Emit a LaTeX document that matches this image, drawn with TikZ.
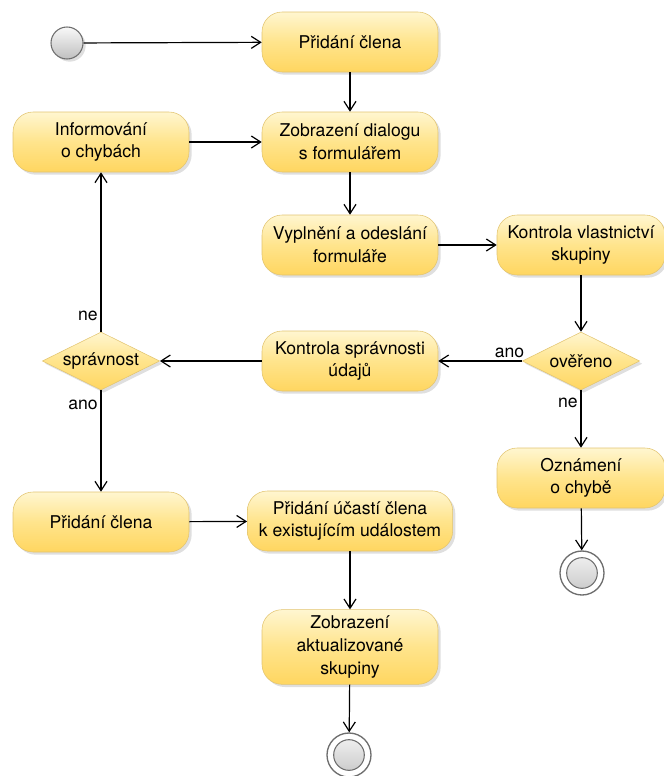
\documentclass[tikz,border=0pt]{standalone}
\usepackage{fontspec}
\setmainfont{TeX Gyre Heros}
\usetikzlibrary{arrows.meta,shapes.geometric,shadows}
\definecolor{BoxEdge}{RGB}{226,196,112}
\definecolor{BoxTop}{RGB}{255,246,208}
\definecolor{BoxMid}{RGB}{255,228,140}
\definecolor{BoxBottom}{RGB}{255,214,96}
\definecolor{NodeGray}{RGB}{110,110,110}
\newcommand{\boxfont}{\fontsize{13.2}{17}\selectfont}
\tikzset{
  action/.style={draw=BoxEdge,rounded corners=15pt,top color=BoxTop,
    bottom color=BoxBottom,middle color=BoxMid,minimum width=132pt,
    minimum height=45pt,align=center,font=\boxfont,
    drop shadow={shadow xshift=2pt,shadow yshift=-2pt,opacity=0.25}},
  decision/.style={diamond,aspect=2,draw=BoxEdge,top color=BoxTop,
    bottom color=BoxBottom,middle color=BoxMid,minimum width=88pt,
    minimum height=43.5pt,inner sep=0pt,font=\boxfont,
    drop shadow={shadow xshift=2pt,shadow yshift=-2pt,opacity=0.25}},
  start/.style={circle,draw=NodeGray,thick,minimum size=24pt,inner sep=0pt,
    top color=gray!5,bottom color=gray!50,
    drop shadow={shadow xshift=2pt,shadow yshift=-2pt,opacity=0.25}},
  final/.style={circle,draw=NodeGray,line width=1pt,minimum size=33pt,
    inner sep=0pt,fill=white,
    path picture={\draw[NodeGray,line width=0.8pt,top color=gray!8,
      bottom color=gray!45] (path picture bounding box.center) circle (11.5pt);}},
  guard/.style={font=\boxfont,inner sep=2pt},
  arrow/.style={-{Straight Barb[length=7pt,width=9pt]},line width=0.9pt}
}

\begin{document}
\begin{tikzpicture}[x=0.75pt,y=-0.75pt]
  \useasboundingbox (0,0) rectangle (664,776);
  \node[start] (start) at (67,43) {};
  \node[action] (add) at (350,42) {Přidání člena};
  \node[action] (dialog) at (350,142) {Zobrazení dialogu\\s formulářem};
  \node[action] (info) at (101,142) {Informování\\o chybách};
  \node[action] (fill) at (350,245) {Vyplnění a odeslání\\formuláře};
  \node[action,minimum width=126pt] (owner) at (581,245) {Kontrola vlastnictví\\skupiny};
  \node[decision] (verified) at (581,361) {ověřeno};
  \node[action] (check) at (350,361) {Kontrola správnosti\\údajů};
  \node[decision] (valid) at (101,361) {správnost};
  \node[action,minimum width=126pt] (notice) at (581,478) {Oznámení\\o chybě};
  \node[final] (endR) at (582,573) {};
  \node[action] (addm) at (101,522) {Přidání člena};
  \node[action,minimum width=154pt] (part) at (350,521) {Přidání účastí člena\\k existujícím událostem};
  \node[action,minimum height=56pt] (show) at (350,647) {Zobrazení\\aktualizované\\skupiny};
  \node[final] (endB) at (349,755) {};

  \foreach \a/\b in {start/add,add/dialog,info/dialog,dialog/fill,fill/owner,
    owner/verified,notice/endR,check/valid,addm/part,part/show,show/endB}{
    \draw[arrow] (\a) -- (\b);
  }
  \draw[arrow] (verified) -- node[guard,pos=0.15,above] {ano} (check);
  \draw[arrow] (verified) -- node[guard,pos=0.22,left] {ne} (notice);
  \draw[arrow] (valid) -- node[guard,pos=0.1,left] {ne} (info);
  \draw[arrow] (valid) -- node[guard,pos=0.14,left] {ano} (addm);
\end{tikzpicture}
\end{document}
